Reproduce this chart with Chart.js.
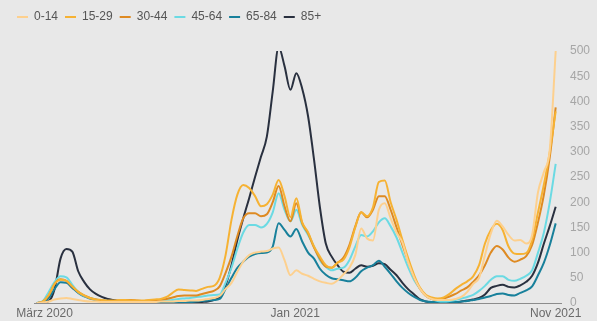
<!DOCTYPE html>
<html>
<head>
<meta charset="utf-8">
<script src="https://cdn.jsdelivr.net/npm/chart.js@4"></script>
<style>
  html, body { margin: 0; padding: 0; background: #e8e8e8; }
  #wrap { width: 597px; height: 321px; position: relative; }
</style>
</head>
<body>
<div id="wrap"><canvas id="incChart"></canvas></div>
<script>
// weekly values, Maerz 2020 .. Nov 2021 (one value per week)
var ageGroups = ['0-14', '15-29', '30-44', '45-64', '65-84', '85+'];

var ages0_14 = [0, 1, 3, 7, 9, 10, 8, 6, 4, 3,
  3, 2, 2, 2, 2, 2, 2, 2, 2, 2,
  2, 3, 3, 3, 4, 4, 5, 5, 6, 8,
  10, 14, 28, 40, 62, 82, 95, 100, 102, 103,
  108, 110, 85, 55, 65, 58, 54, 48, 43, 40,
  38, 45, 57, 70, 95, 148, 128, 124, 185, 198,
  168, 140, 120, 80, 50, 28, 14, 8, 6, 6,
  6, 8, 12, 22, 38, 50, 95, 138, 163, 152,
  135, 124, 125, 118, 135, 220, 260, 305, 500];

var ages15_29 = [0, 3, 16, 38, 46, 44, 33, 22, 15, 10,
  7, 6, 5, 5, 6, 6, 5, 5, 5, 6,
  7, 8, 12, 20, 27, 26, 25, 24, 28, 32,
  34, 50, 95, 165, 215, 234, 228, 212, 192, 196,
  215, 244, 212, 170, 208, 160, 140, 112, 92, 75,
  70, 80, 86, 110, 150, 180, 172, 190, 240, 243,
  200, 165, 125, 88, 55, 30, 16, 11, 9, 11,
  18, 28, 36, 43, 53, 75, 118, 145, 157, 145,
  112, 98, 97, 99, 125, 180, 235, 300, 380];

var ages30_44 = [0, 3, 15, 38, 47, 44, 32, 22, 15, 10,
  7, 5, 4, 4, 5, 6, 6, 5, 4, 5,
  5, 6, 8, 11, 14, 15, 15, 15, 18, 21,
  24, 33, 60, 92, 133, 168, 178, 178, 172, 176,
  200, 232, 192, 162, 198, 158, 138, 110, 88, 72,
  70, 80, 90, 115, 152, 180, 170, 185, 212, 212,
  185, 150, 115, 82, 50, 28, 14, 8, 6, 9,
  13, 18, 25, 31, 42, 55, 75, 100, 113, 106,
  90, 82, 86, 93, 115, 160, 215, 290, 388];

var ages45_64 = [0, 4, 22, 42, 53, 51, 36, 22, 14, 10,
  7, 5, 4, 3, 3, 3, 3, 3, 3, 3,
  3, 4, 5, 6, 8, 9, 10, 12, 13, 15,
  16, 17, 40, 70, 108, 140, 155, 155, 150, 157,
  180, 218, 185, 162, 185, 155, 135, 112, 85, 72,
  65, 68, 70, 85, 112, 135, 132, 142, 160, 168,
  152, 130, 100, 70, 45, 28, 14, 8, 4, 3,
  4, 6, 9, 12, 16, 24, 34, 46, 53, 53,
  46, 44, 48, 54, 65, 100, 140, 200, 276];

var ages65_84 = [0, 2, 10, 28, 41, 40, 30, 20, 13, 9,
  6, 5, 4, 3, 2, 2, 2, 1, 1, 1,
  1, 1, 1, 2, 2, 2, 2, 3, 4, 5,
  6, 8, 28, 50, 70, 82, 92, 97, 99, 100,
  112, 158, 145, 132, 147, 122, 100, 88, 68, 56,
  49, 47, 45, 43, 50, 63, 70, 75, 84, 72,
  58, 43, 30, 20, 12, 6, 3, 2, 2, 2,
  2, 2, 3, 4, 6, 8, 11, 14, 18, 19,
  16, 15, 20, 25, 33, 55, 80, 115, 158];

var ages85 = [0, 2, 4, 28, 88, 107, 102, 63, 42, 27,
  18, 12, 8, 6, 4, 3, 2, 2, 1, 1,
  1, 1, 1, 1, 1, 1, 1, 1, 2, 3,
  6, 12, 35, 75, 125, 168, 208, 250, 290, 330,
  420, 508, 470, 423, 456, 425, 370, 285, 190, 118,
  92, 75, 62, 60, 68, 75, 72, 74, 79, 77,
  66, 55, 40, 27, 17, 7, 3, 1, 1, 1,
  1, 1, 3, 5, 7, 10, 17, 30, 34, 36,
  32, 31, 35, 42, 54, 80, 118, 153, 191];

// tick positions in weeks since start of data
var tickWeeks = [1.3, 43.8, 88];
var tickLabels = ['März 2020', 'Jan 2021', 'Nov 2021'];
var yTicks = [0, 50, 100, 150, 200, 250, 300, 350, 400, 450, 500];

function toPoints(values) {
  return values.map(function (v, i) { return { x: i, y: v }; });
}

function lineSet(label, values, color) {
  return {
    label: label,
    data: toPoints(values),
    borderColor: color,
    backgroundColor: color,
    borderWidth: 2,
    pointRadius: 0,
    pointStyle: 'line',
    cubicInterpolationMode: 'monotone',
    fill: false
  };
}

Chart.defaults.font.family = "'Liberation Sans', Arial, sans-serif";
Chart.defaults.font.size = 12;

var ctx = document.getElementById('incChart').getContext('2d');
var incChart = new Chart(ctx, {
  type: 'line',
  data: {
    datasets: [
      lineSet(ageGroups[0], ages0_14, '#fdd08e'),
      lineSet(ageGroups[1], ages15_29, '#f6b233'),
      lineSet(ageGroups[2], ages30_44, '#de8a22'),
      lineSet(ageGroups[3], ages45_64, '#6bdae3'),
      lineSet(ageGroups[4], ages65_84, '#18809b'),
      lineSet(ageGroups[5], ages85, '#29303f')
    ]
  },
  options: {
    responsive: true,
    maintainAspectRatio: false,
    animation: false,
    layout: { padding: { left: 10, right: 0, top: 4, bottom: 0 } },
    scales: {
      x: {
        type: 'linear',
        min: -0.5,
        max: 88.9,
        grid: { display: false, drawTicks: false },
        border: { display: true, color: '#8c8c8c', width: 1 },
        afterBuildTicks: function (scale) {
          scale.ticks = tickWeeks.map(function (w) { return { value: w }; });
        },
        afterFit: function (scale) { scale.height = 18; },
        ticks: {
          autoSkip: false,
          maxRotation: 0,
          padding: 3,
          color: '#6a6a6a',
          callback: function (value) {
            var k = tickWeeks.indexOf(value);
            return k >= 0 ? tickLabels[k] : '';
          }
        }
      },
      y: {
        position: 'right',
        min: 0,
        max: 500,
        grid: { display: false, drawTicks: false },
        border: { display: false },
        afterBuildTicks: function (scale) {
          scale.ticks = yTicks.map(function (v) { return { value: v }; });
        },
        afterFit: function (scale) { scale.width = 36; },
        ticks: { padding: 9, color: '#a6a6a6' }
      },
      yl: {
        position: 'left',
        display: true,
        grid: { display: false, drawTicks: false },
        border: { display: false },
        ticks: { display: false },
        afterFit: function (scale) { scale.width = 24; }
      }
    },
    plugins: {
      legend: {
        display: true,
        position: 'top',
        align: 'start',
        labels: {
          usePointStyle: true,
          pointStyle: 'line',
          pointStyleWidth: 11,
          padding: 7,
          color: '#555555',
          font: { size: 12 }
        }
      },
      title: { display: false },
      tooltip: { enabled: false }
    }
  },
  plugins: [{
    id: 'legendGap',
    beforeInit: function (chart) {
      var origFit = chart.legend.fit;
      chart.legend.fit = function () {
        origFit.bind(chart.legend)();
        this.height += 18;
      };
    }
  }]
});
</script>
</body>
</html>
